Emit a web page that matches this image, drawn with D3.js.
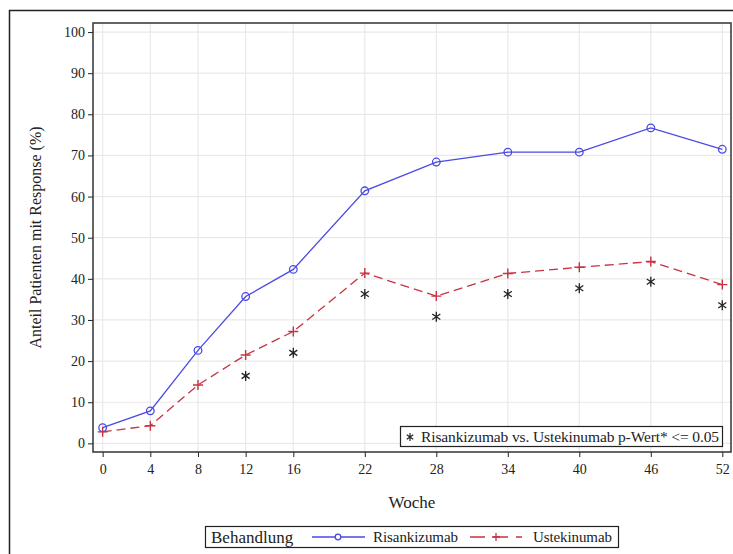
<!DOCTYPE html>
<html>
<head>
<meta charset="utf-8">
<script src="https://cdn.jsdelivr.net/npm/d3@7"></script>
<style>
  body { margin: 0; background: #fff; }
  svg { font-family: "Liberation Serif", "DejaVu Serif", serif; }
  .axis text { font-size: 14px; fill: #222; }
  .axis path, .axis line { stroke: #222; }
</style>
</head>
<body>
<div id="chart"></div>
<script>
// Data
var weeks = [0, 4, 8, 12, 16, 22, 28, 34, 40, 46, 52];
var risankizumab = [3.8, 7.9, 22.6, 35.7, 42.3, 61.4, 68.4, 70.8, 70.8, 76.7, 71.5];
var ustekinumab  = [2.8, 4.3, 14.2, 21.5, 27.2, 41.4, 35.8, 41.3, 42.8, 44.2, 38.6];
// weeks with significant difference and asterisk positions
var sigWeeks  = [12, 16, 22, 28, 34, 40, 46, 52];
var sigValues = [16.4, 22.0, 36.3, 30.8, 36.3, 37.7, 39.3, 33.6];
var yTicks = [0, 10, 20, 30, 40, 50, 60, 70, 80, 90, 100];

var W = 733, H = 554;
var plot = {left: 93, right: 731, top: 23, bottom: 452};
var serif = "'Liberation Serif', 'DejaVu Serif', serif";

var svg = d3.select("#chart").append("svg")
  .attr("width", W)
  .attr("height", H);

// outer frame (left + top visible)
svg.append("path")
  .attr("d", "M9.5," + H + "V10.5H" + W)
  .attr("fill", "none")
  .attr("stroke", "#222")
  .attr("stroke-width", 1.5);

// Scales
var x = d3.scaleLinear()
  .domain([-0.81, 52.73])
  .range([plot.left, plot.right]);

var y = d3.scaleLinear()
  .domain([-2.1, 102.2])
  .range([plot.bottom, plot.top]);

// Grid
var grid = svg.append("g").attr("class", "grid");
grid.selectAll(".gx")
  .data(weeks)
  .enter().append("line")
  .attr("x1", function(d){ return x(d); })
  .attr("x2", function(d){ return x(d); })
  .attr("y1", plot.top)
  .attr("y2", plot.bottom)
  .attr("stroke", "#e9e9e9")
  .attr("stroke-width", 1.2);
grid.selectAll(".gy")
  .data(yTicks)
  .enter().append("line")
  .attr("x1", plot.left)
  .attr("x2", plot.right)
  .attr("y1", function(d){ return y(d); })
  .attr("y2", function(d){ return y(d); })
  .attr("stroke", "#e9e9e9")
  .attr("stroke-width", 1.2);

// Axes
svg.append("g")
  .attr("class", "axis x-axis")
  .attr("transform", "translate(0," + plot.bottom + ")")
  .call(d3.axisBottom(x).tickValues(weeks).tickSize(5).tickPadding(7).tickSizeOuter(0))
  .call(function(g){ g.select(".domain").remove(); })
  .attr("font-family", serif)
  .attr("font-size", 14);

svg.append("g")
  .attr("class", "axis y-axis")
  .attr("transform", "translate(" + plot.left + ",0)")
  .call(d3.axisLeft(y).tickValues(yTicks).tickSize(5).tickPadding(3).tickSizeOuter(0))
  .call(function(g){ g.select(".domain").remove(); })
  .attr("font-family", serif)
  .attr("font-size", 14);

// Plot frame
svg.append("rect")
  .attr("x", plot.left)
  .attr("y", plot.top)
  .attr("width", plot.right - plot.left)
  .attr("height", plot.bottom - plot.top)
  .attr("fill", "none")
  .attr("stroke", "#333")
  .attr("stroke-width", 1.5);

// Axis titles
svg.append("text")
  .attr("x", (plot.left + plot.right) / 2)
  .attr("y", 508)
  .attr("text-anchor", "middle")
  .attr("font-size", 17)
  .attr("fill", "#222")
  .text("Woche");

svg.append("text")
  .attr("transform", "translate(41," + ((plot.top + plot.bottom) / 2) + ") rotate(-90)")
  .attr("text-anchor", "middle")
  .attr("font-size", 16)
  .attr("fill", "#222")
  .text("Anteil Patienten mit Response (%)");

// Lines
var blue = "#4a4ae6", red = "#c83241";
var line = d3.line()
  .x(function(d, i){ return x(weeks[i]); })
  .y(function(d){ return y(d); });

svg.append("path")
  .datum(risankizumab)
  .attr("d", line)
  .attr("fill", "none")
  .attr("stroke", blue)
  .attr("stroke-width", 1.3);

svg.append("path")
  .datum(ustekinumab)
  .attr("d", line)
  .attr("fill", "none")
  .attr("stroke", red)
  .attr("stroke-width", 1.3)
  .attr("stroke-dasharray", "9,5");

// Markers
svg.selectAll(".circ")
  .data(risankizumab)
  .enter().append("circle")
  .attr("cx", function(d, i){ return x(weeks[i]); })
  .attr("cy", function(d){ return y(d); })
  .attr("r", 3.8)
  .attr("fill", "none")
  .attr("stroke", blue)
  .attr("stroke-width", 1.3);

function plusPath(cx, cy, s) {
  return "M" + (cx - s) + "," + cy + "H" + (cx + s) + "M" + cx + "," + (cy - s) + "V" + (cy + s);
}
svg.selectAll(".plus")
  .data(ustekinumab)
  .enter().append("path")
  .attr("d", function(d, i){ return plusPath(x(weeks[i]), y(d), 5); })
  .attr("stroke", red)
  .attr("stroke-width", 1.4);

function starPath(cx, cy, s) {
  var dx = s * 0.8, dy = s * 0.55;
  return "M" + cx + "," + (cy - s) + "V" + (cy + s) +
    "M" + (cx - dx) + "," + (cy - dy) + "L" + (cx + dx) + "," + (cy + dy) +
    "M" + (cx - dx) + "," + (cy + dy) + "L" + (cx + dx) + "," + (cy - dy);
}
svg.selectAll(".star")
  .data(sigValues)
  .enter().append("path")
  .attr("d", function(d, i){ return starPath(x(sigWeeks[i]), y(d), 5); })
  .attr("stroke", "#222")
  .attr("stroke-width", 1.3);

// Inset legend for asterisk
var inset = svg.append("g");
inset.append("rect")
  .attr("x", 400.5)
  .attr("y", 426.5)
  .attr("width", 322)
  .attr("height", 20)
  .attr("fill", "#fff")
  .attr("stroke", "#222")
  .attr("stroke-width", 1.2);
inset.append("path")
  .attr("d", starPath(410, 437, 4))
  .attr("stroke", "#222")
  .attr("stroke-width", 1.2);
inset.append("text")
  .attr("x", 421)
  .attr("y", 442)
  .attr("font-size", 15.5)
  .attr("textLength", 298)
  .attr("fill", "#222")
  .text("Risankizumab vs. Ustekinumab p-Wert* <= 0.05");

// Bottom legend
var leg = svg.append("g");
leg.append("rect")
  .attr("x", 205.5)
  .attr("y", 526.5)
  .attr("width", 413)
  .attr("height", 21)
  .attr("fill", "#fff")
  .attr("stroke", "#222")
  .attr("stroke-width", 1.2);
leg.append("text")
  .attr("x", 211)
  .attr("y", 542.5)
  .attr("font-size", 17)
  .attr("fill", "#222")
  .text("Behandlung");
leg.append("line")
  .attr("x1", 312).attr("x2", 365)
  .attr("y1", 537).attr("y2", 537)
  .attr("stroke", blue).attr("stroke-width", 1.3);
leg.append("circle")
  .attr("cx", 338).attr("cy", 537).attr("r", 2.8)
  .attr("fill", "#fff").attr("stroke", blue).attr("stroke-width", 1.3);
leg.append("text")
  .attr("x", 373).attr("y", 542)
  .attr("font-size", 15)
  .attr("textLength", 85)
  .attr("fill", "#222")
  .text("Risankizumab");
leg.append("line")
  .attr("x1", 470).attr("x2", 522)
  .attr("y1", 537).attr("y2", 537)
  .attr("stroke", red).attr("stroke-width", 1.3)
  .attr("stroke-dasharray", "15,8");
leg.append("path")
  .attr("d", plusPath(496, 537, 4))
  .attr("stroke", red).attr("stroke-width", 1.3);
leg.append("text")
  .attr("x", 533).attr("y", 542)
  .attr("font-size", 15)
  .attr("textLength", 79)
  .attr("fill", "#222")
  .text("Ustekinumab");
</script>
</body>
</html>
